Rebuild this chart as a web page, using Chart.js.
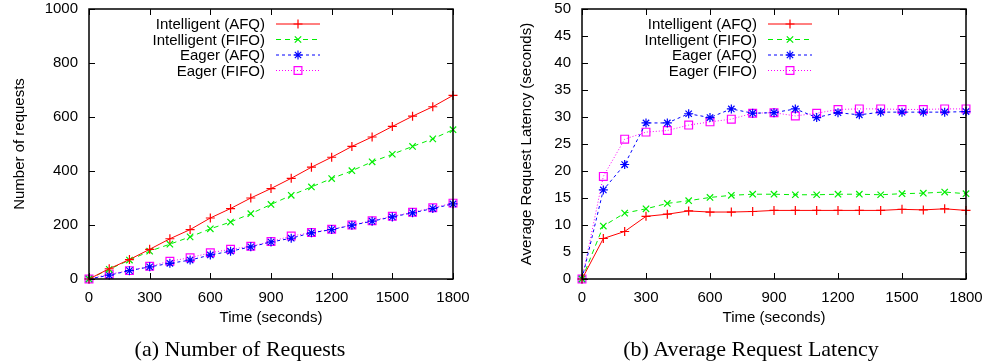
<!DOCTYPE html>
<html>
<head>
<meta charset="utf-8">
<script src="https://cdn.jsdelivr.net/npm/chart.js@4.4.1/dist/chart.umd.min.js"></script>
<style>
body { margin: 0; background: #fff; }
#wrap { position: relative; width: 985px; height: 364px; }
.box { position: absolute; top: 0; height: 364px; }
.cap { position: absolute; top: 336px; font-family: "Liberation Serif", serif; font-size: 22px; line-height: 26px; white-space: nowrap; transform: translateX(-50%); color: #000; }
</style>
</head>
<body>
<div id="wrap">
  <div class="box" style="left:0;width:492px"><canvas id="reqChart" width="492" height="364"></canvas></div>
  <div class="box" style="left:492px;width:493px"><canvas id="latChart" width="493" height="364"></canvas></div>
  <div class="cap" style="left:240px">(a) Number of Requests</div>
  <div class="cap" style="left:751px">(b) Average Request Latency</div>
</div>
<script>
// time samples (seconds)
const times = [0, 100, 200, 300, 400, 500, 600, 700, 800, 900, 1000, 1100, 1200, 1300, 1400, 1500, 1600, 1700, 1800];
const seriesNames = ["Intelligent (AFQ)", "Intelligent (FIFO)", "Eager (AFQ)", "Eager (FIFO)"];

// (a) number of requests
const intelAfqReq = [0, 38, 72, 110, 149, 183, 226, 261, 300, 335, 373, 414, 451, 491, 526, 565, 603, 638, 680];
const intelFifoReq = [0, 36, 70, 103, 129, 156, 186, 211, 242, 276, 310, 341, 372, 401, 434, 462, 491, 519, 553];
const eagerAfqReq = [0, 14, 31, 45, 58, 70, 89, 103, 119, 137, 151, 171, 183, 199, 214, 230, 245, 261, 278];
const eagerFifoReq = [0, 18, 31, 47, 66, 79, 97, 110, 121, 139, 159, 172, 184, 200, 216, 232, 247, 264, 281];

// (b) average request latency (seconds)
const intelAfqLat = [0, 7.5, 8.8, 11.6, 12.0, 12.6, 12.4, 12.4, 12.5, 12.7, 12.7, 12.7, 12.7, 12.7, 12.7, 12.9, 12.8, 13.0, 12.7];
const intelFifoLat = [0, 9.8, 12.2, 13.0, 14.0, 14.5, 15.1, 15.5, 15.7, 15.7, 15.6, 15.6, 15.7, 15.7, 15.6, 15.8, 15.9, 16.1, 15.8];
const eagerAfqLat = [0, 16.5, 21.2, 28.9, 28.9, 30.6, 29.9, 31.5, 30.7, 30.8, 31.5, 29.9, 30.8, 30.4, 30.9, 30.9, 30.9, 30.9, 31.0];
const eagerFifoLat = [0, 19.0, 25.9, 27.2, 27.5, 28.5, 29.1, 29.6, 30.7, 30.8, 30.2, 30.7, 31.4, 31.5, 31.5, 31.4, 31.4, 31.5, 31.5];

const xTicks = [0, 300, 600, 900, 1200, 1500, 1800];

const styles = [
    { color: "#ff0000", dash: [], pointStyle: "cross", radius: 4.5 },
    { color: "#00ee00", dash: [5, 4], pointStyle: "crossRot", radius: 4.5 },
    { color: "#0000ff", dash: [3, 3], pointStyle: "star", radius: 4.5 },
    { color: "#ff00ff", dash: [1, 2], pointStyle: "rect", radius: 5.5 }
];

const toPoints = (ys) => times.map((t, i) => ({ x: t, y: ys[i] }));

const makeDatasets = (arrays) => arrays.map((ys, i) => ({
    label: seriesNames[i],
    data: toPoints(ys),
    borderColor: styles[i].color,
    borderWidth: 1,
    borderDash: styles[i].dash,
    pointStyle: styles[i].pointStyle,
    pointRadius: styles[i].radius,
    pointBorderColor: styles[i].color,
    pointBackgroundColor: "rgba(0,0,0,0)",
    pointBorderWidth: 1.2,
    tension: 0,
    clip: false
}));

// gnuplot-like frame, inward ticks on all sides and a legend with text first
const gnuplotLook = {
    id: "gnuplotLook",
    afterDraw(chart) {
        const { ctx, chartArea: a, scales } = chart;
        ctx.save();
        ctx.strokeStyle = "#000";
        ctx.lineWidth = 1;
        const tl = 6;
        scales.x.ticks.forEach(t => {
            const px = Math.round(scales.x.getPixelForValue(t.value)) + 0.5;
            ctx.beginPath();
            ctx.moveTo(px, a.bottom); ctx.lineTo(px, a.bottom - tl);
            ctx.moveTo(px, a.top); ctx.lineTo(px, a.top + tl);
            ctx.stroke();
        });
        scales.y.ticks.forEach(t => {
            const py = Math.round(scales.y.getPixelForValue(t.value)) + 0.5;
            ctx.beginPath();
            ctx.moveTo(a.left, py); ctx.lineTo(a.left + tl, py);
            ctx.moveTo(a.right, py); ctx.lineTo(a.right - tl, py);
            ctx.stroke();
        });
        ctx.lineWidth = 1.5;
        ctx.strokeRect(a.left, a.top, a.right - a.left, a.bottom - a.top);

        // legend
        const rows = [24, 39.5, 55, 70.5];
        ctx.font = "15px 'Liberation Sans', Arial, sans-serif";
        ctx.textAlign = "right";
        ctx.textBaseline = "middle";
        chart.data.datasets.forEach((ds, i) => {
            const y = rows[i];
            ctx.fillStyle = "#000";
            ctx.fillText(ds.label, 265, y + 1);
            ctx.strokeStyle = ds.borderColor;
            ctx.lineWidth = 1;
            ctx.setLineDash(ds.borderDash);
            ctx.beginPath();
            ctx.moveTo(276, y); ctx.lineTo(320, y);
            ctx.stroke();
            ctx.setLineDash([]);
            ctx.lineWidth = ds.pointBorderWidth;
            ctx.fillStyle = "rgba(0,0,0,0)";
            Chart.helpers.drawPoint(ctx, {
                pointStyle: ds.pointStyle,
                radius: ds.pointRadius,
                borderWidth: ds.pointBorderWidth,
                rotation: 0
            }, 298, y);
        });
        ctx.restore();
    }
};

const tickFont = { family: "'Liberation Sans', Arial, sans-serif", size: 15 };
const titleFont = { family: "'Liberation Sans', Arial, sans-serif", size: 15 };

const makeChart = (canvasId, arrays, yMax, yStep, yTitle, yWidth, yTitlePad, rightPad) => new Chart(document.getElementById(canvasId), {
    type: "line",
    data: { datasets: makeDatasets(arrays) },
    plugins: [gnuplotLook],
    options: {
        responsive: false,
        animation: false,
        layout: { autoPadding: false, padding: { top: 9, right: rightPad, left: 0, bottom: 0 } },
        plugins: { legend: { display: false }, tooltip: { enabled: false } },
        scales: {
            x: {
                type: "linear",
                min: 0,
                max: 1800,
                afterBuildTicks: (scale) => { scale.ticks = xTicks.map(v => ({ value: v })); },
                afterFit: (scale) => {
                    scale.height = 85;
                    scale.paddingLeft = 0;
                    scale.paddingRight = 0;
                },
                grid: { display: false, drawTicks: false },
                border: { display: false },
                ticks: { color: "#000", font: tickFont, padding: 10, maxRotation: 0, callback: (v) => String(v) },
                title: { display: true, text: "Time (seconds)", color: "#000", font: titleFont, padding: { top: 0, bottom: 37 } }
            },
            y: {
                min: 0,
                max: yMax,
                afterFit: (scale) => {
                    scale.width = yWidth;
                    scale.paddingTop = 0;
                    scale.paddingBottom = 0;
                },
                grid: { display: false, drawTicks: false },
                border: { display: false },
                ticks: { color: "#000", font: tickFont, padding: 11, stepSize: yStep, callback: (v) => String(v) },
                title: { display: true, text: yTitle, color: "#000", font: titleFont, padding: { top: yTitlePad, bottom: 0 } }
            }
        }
    }
});

makeChart("reqChart", [intelAfqReq, intelFifoReq, eagerAfqReq, eagerFifoReq], 1000, 200, "Number of requests", 89, 11, 39);
makeChart("latChart", [intelAfqLat, intelFifoLat, eagerAfqLat, eagerFifoLat], 50, 5, "Average Request Latency (seconds)", 90, 26, 19);
</script>
</body>
</html>
